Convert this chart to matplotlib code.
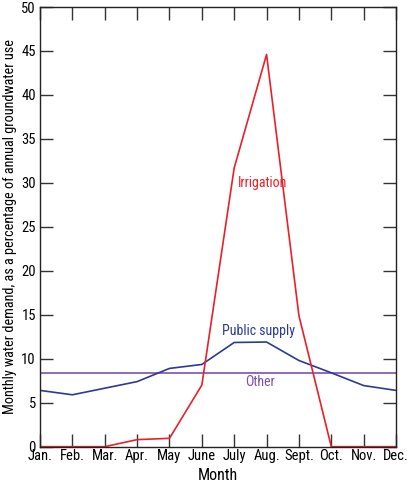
import matplotlib
matplotlib.use('Agg')
import matplotlib.pyplot as plt
import numpy as np

plt.rcParams['font.family'] = ['Roboto Condensed', 'DejaVu Sans']

months = ['Jan.', 'Feb.', 'Mar.', 'Apr.', 'May', 'June', 'July', 'Aug.', 'Sept.', 'Oct.', 'Nov.', 'Dec.']
irrigation = [0, 0, 0, 0.8, 0.95, 7.0, 31.7, 44.6, 14.9, 0, 0, 0]
public_supply = [6.4, 5.9, 6.65, 7.4, 8.9, 9.35, 11.85, 11.9, 9.8, 8.4, 6.95, 6.4]
other = [8.33] * 12

red = '#e8202a'
blue = '#2b3a98'
purple = '#7b52aa'

fig = plt.figure(figsize=(4.10, 4.87), dpi=100)
ax = fig.add_axes([0.0976, 0.0828, 0.8683, 0.9028])

x = np.arange(len(months))
ax.plot(x, other, color=purple, lw=1.2)
ax.plot(x, public_supply, color=blue, lw=1.2)
ax.plot(x, irrigation, color=red, lw=1.2)

ax.text(6.87, 30, 'Irrigation', color=red, fontsize=10, ha='center', va='center')
ax.text(6.75, 13.1, 'Public supply', color=blue, fontsize=10, ha='center', va='center')
ax.text(6.8, 7.4, 'Other', color=purple, fontsize=10, ha='center', va='center')

ax.set_xlim(0, 11)
ax.set_ylim(0, 50)
ax.set_xticks(x)
ax.set_xticklabels(months)
ax.set_yticks(np.arange(0, 51, 5))
ax.tick_params(direction='in', length=9.5, width=1, color='#333333',
               top=True, right=True, labelsize=10.5, pad=2)
ax.tick_params(axis='y', pad=3)
for s in ax.spines.values():
    s.set_color('#222222')
    s.set_linewidth(1)

ax.set_xlabel('Month', fontsize=11.5, labelpad=3)
yl = ax.set_ylabel('Monthly water demand, as a percentage of annual groundwater use',
                   fontsize=11, labelpad=3)

# shrink the long label until it fits the axis height
fig.canvas.draw()
r = fig.canvas.get_renderer()
fs = 11
while yl.get_window_extent(r).height > 382 and fs > 6:
    fs -= 0.25
    yl.set_fontsize(fs)

fig.savefig('out.png', dpi=100)
